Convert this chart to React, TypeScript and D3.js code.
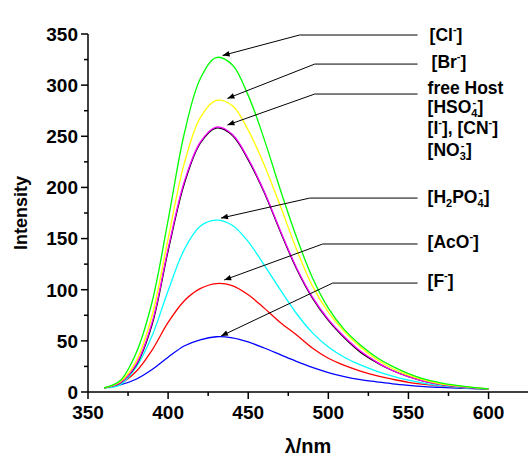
import * as d3 from "d3";

// emission wavelengths (nm)
const wavelengths = [
  360, 370, 380, 390, 400, 410, 420, 430, 440, 450, 460, 470, 480,
  490, 500, 510, 520, 530, 540, 550, 560, 570, 580, 590, 600,
];

// intensities, one list per anion
const clValues = [4, 11, 38, 88, 168, 252, 306, 327, 320, 290, 247, 198, 152, 112, 82, 61, 46, 34, 25, 18, 12.5, 9, 6.5, 4.5, 3];
const brValues = [4, 10, 30, 75, 150, 223, 268, 285, 280, 256, 222, 182, 140, 104, 78, 59, 44, 32, 23, 16.5, 11.5, 8, 6, 4.5, 3];
const hostValues = [4, 9, 26, 66, 138, 203, 243, 258, 251, 227, 195, 157, 121, 92, 70, 53, 39, 29, 21, 15, 10.5, 7.5, 5.5, 4, 3];
const hso4Values = [4, 9, 27, 68, 140, 205, 244, 259, 252, 228, 196, 158, 122, 93, 71, 54, 40, 29.5, 21, 15, 10.5, 7.5, 5.5, 4, 3];
const h2po4Values = [4, 7, 24, 55, 99, 139, 162, 168, 163, 147, 124, 100, 77, 58, 44, 34, 26.5, 20.5, 15.5, 11.5, 8.5, 6.3, 4.7, 3.6, 3];
const acoValues = [4, 8, 20, 41, 68, 89, 101, 106, 104, 95, 82, 68, 56, 43, 33, 26, 20.5, 16, 12.5, 9.5, 7.5, 6, 4.5, 3.5, 3];
const fValues = [4, 7, 12.5, 22, 34, 45, 51, 54, 53, 49, 43, 36.5, 30, 24, 19, 15, 12, 10, 8, 6.5, 5.3, 4.5, 3.8, 3.3, 3];

const series = [
  { name: "F", color: "#0000ff", values: fValues },
  { name: "AcO", color: "#ff0000", values: acoValues },
  { name: "H2PO4", color: "#00ffff", values: h2po4Values },
  { name: "host", color: "#000000", values: hostValues },
  { name: "HSO4", color: "#ff00ff", values: hso4Values },
  { name: "Br", color: "#ffff00", values: brValues },
  { name: "Cl", color: "#00ff00", values: clValues },
];

// arrows: tip and elbow in data units (nm, intensity)
const arrowTips = [
  [434, 329], [437, 287], [437, 261], [433, 170], [435, 109.5], [433, 54.7],
];
const arrowElbows = [
  [482, 349], [491.5, 320.6], [491.5, 291.3], [488.4, 189.6], [496.5, 144.7], [502.7, 106.5],
];

const xTicks = [350, 400, 450, 500, 550, 600];
const yTicks = [0, 50, 100, 150, 200, 250, 300, 350];

const W = 528;
const H = 456;
const FONT = "'Liberation Sans', Arial, Helvetica, sans-serif";

function Sup({ children }: { children: string }) {
  return (
    <tspan fontSize={11} dy={-8}>
      {children}
    </tspan>
  );
}

// subscript digit with the charge stacked above it, then the closing bracket
function SubSup({ sub }: { sub: string }) {
  return (
    <>
      <tspan fontSize={11} dy={4}>{sub}</tspan>
      <tspan fontSize={11} dx={-5} dy={-11}>-</tspan>
      <tspan dx={1.5} dy={7}>]</tspan>
    </>
  );
}

export default function App() {
  const margin = { left: 88, right: 1, top: 34, bottom: 64 };
  const x = d3.scaleLinear().domain([350, 624]).range([margin.left, W - margin.right]);
  const y = d3.scaleLinear().domain([0, 350]).range([H - margin.bottom, margin.top]);

  const line = d3
    .line<number>()
    .x((_, i) => x(wavelengths[i]))
    .y((d) => y(d))
    .curve(d3.curveCatmullRom.alpha(0.5));

  const minorX = d3.range(350, 625, 25).filter((t) => t % 50 !== 0);
  const minorY = d3.range(25, 350, 50);

  const labelX = x(555.7);
  const textX = labelX + 10;
  const ab = { fontSize: 17.5, fontWeight: "bold" as const, fontFamily: FONT };

  return (
    <svg width={W} height={H} style={{ position: "absolute", left: 0, top: 0 }}>
      <defs>
        <marker id="ah" viewBox="0 0 10 10" refX={10} refY={5} markerWidth={9} markerHeight={7} orient="auto" markerUnits="userSpaceOnUse">
          <path d="M0,1 L10,5 L0,9 Z" fill="#000" />
        </marker>
      </defs>

      {/* curves */}
      {series.map((s) => (
        <path key={s.name} d={line(s.values) ?? ""} fill="none" stroke={s.color} strokeWidth={1.3} />
      ))}

      {/* axes */}
      <line x1={x(350)} x2={W} y1={y(0)} y2={y(0)} stroke="#000" strokeWidth={1.5} />
      <line x1={x(350)} x2={x(350)} y1={y(0)} y2={y(350)} stroke="#000" strokeWidth={1.5} />
      {xTicks.map((t) => (
        <g key={t}>
          <line x1={x(t)} x2={x(t)} y1={y(0)} y2={y(0) + 7} stroke="#000" strokeWidth={1.5} />
          <text x={x(t)} y={419} textAnchor="middle" fontSize={19} fontWeight="bold" fontFamily={FONT}>
            {t}
          </text>
        </g>
      ))}
      {minorX.map((t) => (
        <line key={t} x1={x(t)} x2={x(t)} y1={y(0)} y2={y(0) + 4} stroke="#000" strokeWidth={1.5} />
      ))}
      {yTicks.map((t) => (
        <g key={t}>
          <line x1={x(350) - 7} x2={x(350)} y1={y(t)} y2={y(t)} stroke="#000" strokeWidth={1.5} />
          <text x={x(350) - 10} y={y(t)} dy="0.36em" textAnchor="end" fontSize={19} fontWeight="bold" fontFamily={FONT}>
            {t}
          </text>
        </g>
      ))}
      {minorY.map((t) => (
        <line key={t} x1={x(350) - 4} x2={x(350)} y1={y(t)} y2={y(t)} stroke="#000" strokeWidth={1.5} />
      ))}

      <text x={(x(350) + W) / 2} y={453} textAnchor="middle" fontSize={20} fontWeight="bold" fontFamily={FONT}>
        λ/nm
      </text>
      <text
        transform={`translate(27,${(y(0) + y(350)) / 2}) rotate(-90)`}
        textAnchor="middle"
        fontSize={18}
        fontWeight="bold"
        fontFamily={FONT}
      >
        Intensity
      </text>

      {/* annotation arrows */}
      {arrowTips.map((tip, i) => {
        const e = arrowElbows[i];
        return (
          <g key={i}>
            <line x1={labelX} x2={x(e[0])} y1={y(e[1])} y2={y(e[1])} stroke="#000" strokeWidth={1} />
            <line
              x1={x(e[0])}
              y1={y(e[1])}
              x2={x(tip[0])}
              y2={y(tip[1])}
              stroke="#000"
              strokeWidth={1}
              markerEnd="url(#ah)"
            />
          </g>
        );
      })}

      {/* labels */}
      <text x={textX + 2} y={y(349) + 6} {...ab}>
        [Cl<Sup>-</Sup>
        <tspan dy={8}>]</tspan>
      </text>
      <text x={textX + 4} y={y(320.6) + 4} {...ab}>
        [Br<Sup>-</Sup>
        <tspan dy={8}>]</tspan>
      </text>
      <text x={textX} y={y(291.3)} {...ab}>
        free Host
      </text>
      <text x={textX} y={113} {...ab}>
        [HSO<SubSup sub="4" />
      </text>
      <text x={textX} y={134} {...ab}>
        [I<Sup>-</Sup>
        <tspan dy={8}>], [CN</tspan>
        <Sup>-</Sup>
        <tspan dy={8}>]</tspan>
      </text>
      <text x={textX} y={156} {...ab}>
        [NO<SubSup sub="3" />
      </text>
      <text x={textX} y={y(189.6) + 5} {...ab}>
        [H<tspan fontSize={11} dy={4}>2</tspan>
        <tspan dy={-4}>PO</tspan>
        <SubSup sub="4" />
      </text>
      <text x={textX} y={y(144.7) + 4} {...ab}>
        [AcO<Sup>-</Sup>
        <tspan dy={8}>]</tspan>
      </text>
      <text x={textX} y={y(106.5) + 4} {...ab}>
        [F<Sup>-</Sup>
        <tspan dy={8}>]</tspan>
      </text>
    </svg>
  );
}
